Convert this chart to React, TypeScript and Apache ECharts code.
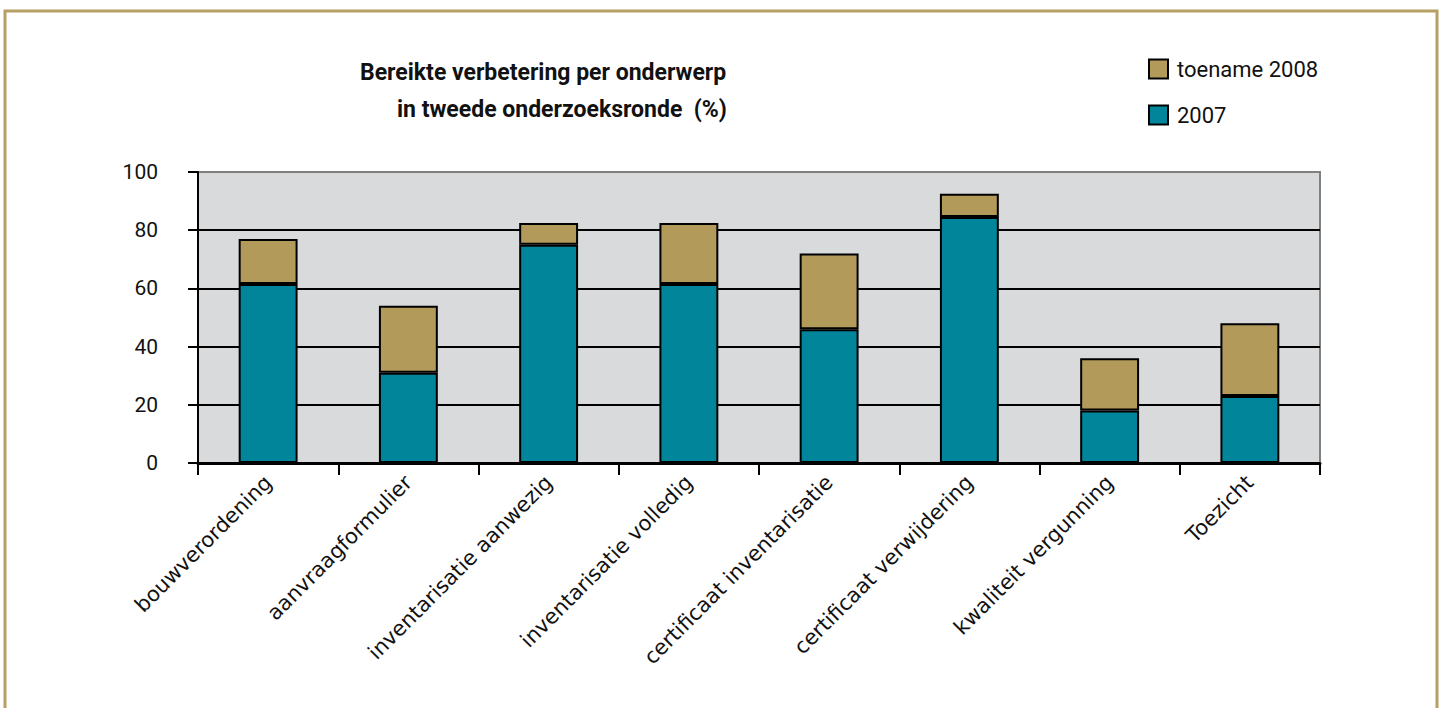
import React, { useEffect, useRef } from "react";
import * as echarts from "echarts";

const categories = [
  "bouwverordening",
  "aanvraagformulier",
  "inventarisatie aanwezig",
  "inventarisatie volledig",
  "certificaat inventarisatie",
  "certificaat verwijdering",
  "kwaliteit vergunning",
  "Toezicht",
];
const values2007 = [61.5, 31, 75, 61.5, 46, 84.5, 18, 23];
const valuesToename = [15.5, 23, 7.5, 21, 26, 8, 18, 25];
const titleLines = ["Bereikte verbetering per onderwerp", "in tweede onderzoeksronde  (%)"];
const seriesNames = ["toename 2008", "2007"];

export default function App() {
  const ref = useRef<HTMLDivElement>(null);
  useEffect(() => {
    if (!ref.current) return;
    const chart = echarts.init(ref.current, null, { renderer: "svg" });
    chart.setOption({
      animation: false,
      backgroundColor: "#ffffff",
      title: [
        {
          text: titleLines[0],
          left: 355,
          top: 56,
          textStyle: { fontFamily: "Roboto", fontWeight: "bold", fontSize: 23, color: "#111" },
        },
        {
          text: titleLines[1],
          left: 392,
          top: 93,
          textStyle: { fontFamily: "Roboto", fontWeight: "bold", fontSize: 23, color: "#111" },
        },
      ],
      graphic: [
        {
          type: "rect",
          shape: { x: 5, y: 11, width: 1432, height: 730 },
          style: { fill: "none", stroke: "#b8a064", lineWidth: 3 },
          silent: true,
        },
      ],
      legend: {
        orient: "vertical",
        left: 1143,
        top: 53,
        itemWidth: 19,
        itemHeight: 19,
        itemGap: 24,
        icon: "rect",
        data: seriesNames,
        textStyle: { fontFamily: "Roboto", fontSize: 22, color: "#111", padding: [0, 0, 0, 4] },
      },
      grid: {
        left: 198,
        right: 125,
        top: 172,
        bottom: 245,
        show: true,
        backgroundColor: "#d9dadc",
        borderColor: "#808080",
        borderWidth: 2,
      },
      xAxis: {
        type: "category",
        data: categories,
        boundaryGap: true,
        axisLine: { lineStyle: { color: "#000", width: 3 } },
        axisTick: { show: true, length: 12, alignWithLabel: false, lineStyle: { color: "#000", width: 2 } },
        axisLabel: {
          interval: 0,
          rotate: 45,
          margin: 16,
          fontFamily: "DejaVu Sans",
          fontSize: 21,
          color: "#111",
        },
      },
      yAxis: {
        type: "value",
        min: 0,
        max: 100,
        interval: 20,
        axisLine: { show: true, lineStyle: { color: "#000", width: 2 } },
        axisTick: { show: true, length: 10, lineStyle: { color: "#000", width: 2 } },
        axisLabel: { margin: 40, fontFamily: "Roboto", fontSize: 21, color: "#111" },
        splitLine: {
          show: true,
          lineStyle: { color: ["#000", "#000", "#000", "#000", "#000", "#808080"], width: 2 },
        },
      },
      series: [
        {
          name: "2007",
          type: "bar",
          stack: "total",
          barWidth: "42%",
          data: values2007,
          itemStyle: { color: "#01859b", borderColor: "#000", borderWidth: 2 },
        },
        {
          name: "toename 2008",
          type: "bar",
          stack: "total",
          barWidth: "42%",
          data: valuesToename,
          itemStyle: { color: "#b29a5a", borderColor: "#000", borderWidth: 2 },
        },
      ],
    });
    return () => chart.dispose();
  }, []);
  return (
    <div
      ref={ref}
      style={{ position: "fixed", left: 0, top: 0, width: 1445, height: 708 }}
    />
  );
}
